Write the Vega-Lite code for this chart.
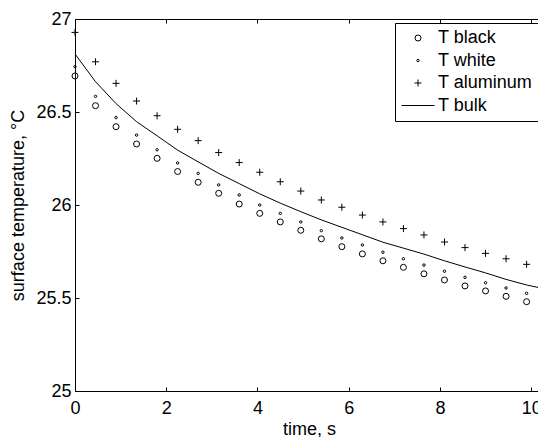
{
  "$schema": "https://vega.github.io/schema/vega-lite/v6.json",
  "width": 463,
  "height": 372,
  "autosize": {"type": "none"},
  "padding": {"left": 75, "top": 19, "right": 0, "bottom": 46},
  "background": "white",
  "resolve": {"axis": {"x": "independent", "y": "independent"}},
  "config": {
    "view": {"stroke": null},
    "font": "Liberation Sans",
    "axis": {
      "grid": false,
      "domain": true,
      "domainColor": "black",
      "domainWidth": 1,
      "ticks": true,
      "tickColor": "black",
      "tickSize": -4,
      "tickWidth": 1,
      "labelColor": "black",
      "labelFont": "Liberation Sans",
      "labelFontSize": 18,
      "titleFont": "Liberation Sans",
      "titleFontSize": 18,
      "titleFontWeight": "normal",
      "titleColor": "black"
    },
    "legend": {
      "labelFont": "Liberation Sans",
      "labelFontSize": 18,
      "labelColor": "black"
    }
  },
  "datasets": {
    "markers": [
      {"t": 0, "series": "T black", "T": 26.694},
      {"t": 0.45, "series": "T black", "T": 26.534},
      {"t": 0.9, "series": "T black", "T": 26.421},
      {"t": 1.35, "series": "T black", "T": 26.328},
      {"t": 1.8, "series": "T black", "T": 26.251},
      {"t": 2.25, "series": "T black", "T": 26.18},
      {"t": 2.7, "series": "T black", "T": 26.122},
      {"t": 3.15, "series": "T black", "T": 26.063},
      {"t": 3.6, "series": "T black", "T": 26.005},
      {"t": 4.05, "series": "T black", "T": 25.955},
      {"t": 4.5, "series": "T black", "T": 25.909},
      {"t": 4.95, "series": "T black", "T": 25.864},
      {"t": 5.4, "series": "T black", "T": 25.818},
      {"t": 5.85, "series": "T black", "T": 25.776},
      {"t": 6.3, "series": "T black", "T": 25.737},
      {"t": 6.75, "series": "T black", "T": 25.7},
      {"t": 7.2, "series": "T black", "T": 25.665},
      {"t": 7.65, "series": "T black", "T": 25.63},
      {"t": 8.1, "series": "T black", "T": 25.597},
      {"t": 8.55, "series": "T black", "T": 25.565},
      {"t": 9.0, "series": "T black", "T": 25.538},
      {"t": 9.45, "series": "T black", "T": 25.509},
      {"t": 9.9, "series": "T black", "T": 25.48},
      {"t": 0, "series": "T white", "T": 26.744},
      {"t": 0.45, "series": "T white", "T": 26.584},
      {"t": 0.9, "series": "T white", "T": 26.47},
      {"t": 1.35, "series": "T white", "T": 26.376},
      {"t": 1.8, "series": "T white", "T": 26.297},
      {"t": 2.25, "series": "T white", "T": 26.226},
      {"t": 2.7, "series": "T white", "T": 26.17},
      {"t": 3.15, "series": "T white", "T": 26.108},
      {"t": 3.6, "series": "T white", "T": 26.054},
      {"t": 4.05, "series": "T white", "T": 26.0},
      {"t": 4.5, "series": "T white", "T": 25.955},
      {"t": 4.95, "series": "T white", "T": 25.909},
      {"t": 5.4, "series": "T white", "T": 25.862},
      {"t": 5.85, "series": "T white", "T": 25.823},
      {"t": 6.3, "series": "T white", "T": 25.785},
      {"t": 6.75, "series": "T white", "T": 25.746},
      {"t": 7.2, "series": "T white", "T": 25.711},
      {"t": 7.65, "series": "T white", "T": 25.677},
      {"t": 8.1, "series": "T white", "T": 25.644},
      {"t": 8.55, "series": "T white", "T": 25.611},
      {"t": 9.0, "series": "T white", "T": 25.582},
      {"t": 9.45, "series": "T white", "T": 25.554},
      {"t": 9.9, "series": "T white", "T": 25.525},
      {"t": 0, "series": "T aluminum", "T": 26.928},
      {"t": 0.45, "series": "T aluminum", "T": 26.77},
      {"t": 0.9, "series": "T aluminum", "T": 26.654},
      {"t": 1.35, "series": "T aluminum", "T": 26.559},
      {"t": 1.8, "series": "T aluminum", "T": 26.48},
      {"t": 2.25, "series": "T aluminum", "T": 26.407},
      {"t": 2.7, "series": "T aluminum", "T": 26.346},
      {"t": 3.15, "series": "T aluminum", "T": 26.282},
      {"t": 3.6, "series": "T aluminum", "T": 26.228},
      {"t": 4.05, "series": "T aluminum", "T": 26.176},
      {"t": 4.5, "series": "T aluminum", "T": 26.125},
      {"t": 4.95, "series": "T aluminum", "T": 26.075},
      {"t": 5.4, "series": "T aluminum", "T": 26.027},
      {"t": 5.85, "series": "T aluminum", "T": 25.988},
      {"t": 6.3, "series": "T aluminum", "T": 25.946},
      {"t": 6.75, "series": "T aluminum", "T": 25.909},
      {"t": 7.2, "series": "T aluminum", "T": 25.873},
      {"t": 7.65, "series": "T aluminum", "T": 25.839},
      {"t": 8.1, "series": "T aluminum", "T": 25.801},
      {"t": 8.55, "series": "T aluminum", "T": 25.771},
      {"t": 9.0, "series": "T aluminum", "T": 25.74},
      {"t": 9.45, "series": "T aluminum", "T": 25.711},
      {"t": 9.9, "series": "T aluminum", "T": 25.681}
    ],
    "bulk": [
      {"t": 0, "T": 26.812},
      {"t": 0.45, "T": 26.663},
      {"t": 0.9, "T": 26.545},
      {"t": 1.35, "T": 26.448},
      {"t": 1.8, "T": 26.372},
      {"t": 2.25, "T": 26.295},
      {"t": 2.7, "T": 26.232},
      {"t": 3.15, "T": 26.17},
      {"t": 3.6, "T": 26.115},
      {"t": 4.05, "T": 26.06},
      {"t": 4.5, "T": 26.01},
      {"t": 4.95, "T": 25.964},
      {"t": 5.4, "T": 25.92},
      {"t": 5.85, "T": 25.88},
      {"t": 6.3, "T": 25.84},
      {"t": 6.75, "T": 25.8},
      {"t": 7.2, "T": 25.768},
      {"t": 7.65, "T": 25.736},
      {"t": 8.1, "T": 25.7},
      {"t": 8.55, "T": 25.667},
      {"t": 9.0, "T": 25.635},
      {"t": 9.45, "T": 25.6},
      {"t": 9.9, "T": 25.57},
      {"t": 10.15, "T": 25.557}
    ]
  },
  "layer": [
    {
      "data": {"name": "bulk"},
      "mark": {"type": "line", "color": "black", "strokeWidth": 1},
      "encoding": {
        "x": {"field": "t", "type": "quantitative", "scale": {"domain": [0, 10.15], "nice": false},
          "axis": {"values": [0, 2, 4, 6, 8, 10], "title": "time, s", "titleX": 234, "labelPadding": 12, "titlePadding": 3, "labelFlush": false}},
        "y": {"field": "T", "type": "quantitative", "scale": {"domain": [25, 27]},
          "axis": {"values": [25, 25.5, 26, 26.5, 27], "format": "~g", "title": "surface temperature, °C", "labelPadding": 8, "titlePadding": 8, "labelFlush": false}}
      }
    },
    {
      "data": {"name": "markers"},
      "mark": {"type": "point", "filled": false, "stroke": "black", "strokeWidth": 1, "opacity": 1},
      "encoding": {
        "x": {"field": "t", "type": "quantitative", "axis": {"orient": "top", "values": [0, 2, 4, 6, 8, 10], "labels": false, "title": null}},
        "y": {"field": "T", "type": "quantitative", "axis": null},
        "shape": {
          "field": "series", "type": "nominal",
          "scale": {"domain": ["T black", "T white", "T aluminum", "T bulk"], "range": ["circle", "circle", "M-1,0H1M0,-1V1", "M-1,0H1"]},
          "legend": {"orient": "none", "legendX": 320, "legendY": 4, "title": null, "fillColor": "white", "strokeColor": "black", "padding": 6, "symbolStrokeColor": "black", "symbolFillColor": "transparent", "symbolStrokeWidth": 1, "labelOffset": 3, "rowPadding": 4.5, "clipHeight": 18}
        },
        "size": {
          "field": "series", "type": "nominal",
          "scale": {"type": "ordinal", "domain": ["T black", "T white", "T aluminum", "T bulk"], "range": [36, 6, 49, 1089]},
          "legend": {"orient": "none", "legendX": 320, "legendY": 4, "title": null, "fillColor": "white", "strokeColor": "black", "padding": 6, "symbolStrokeColor": "black", "symbolFillColor": "transparent", "symbolStrokeWidth": 1, "labelOffset": 3, "rowPadding": 4.5, "clipHeight": 18}
        }
      }
    }
  ]
}
